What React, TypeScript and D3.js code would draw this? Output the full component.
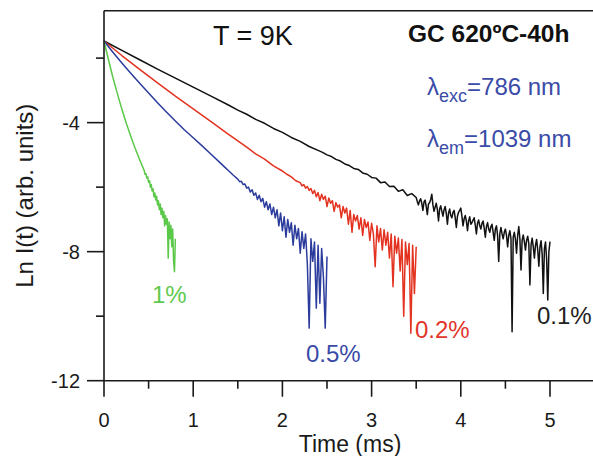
import React from "react";
import * as d3 from "d3";

const W = 593;
const H = 456;
const FONT = "'Liberation Sans', Arial, Helvetica, sans-serif";

const xTicks = [0, 1, 2, 3, 4, 5];
const xMinor = [0.5, 1.5, 2.5, 3.5, 4.5];
const yTicks = [-12, -8, -4];
const yMinor = [-10, -6, -2];

type P = [number, number];

const black01: P[] = [
  [0, -1.47], [0.2, -1.76], [0.4, -2.05], [0.6, -2.34], [0.8, -2.62], [1.0, -2.9],
  [1.2, -3.18], [1.4, -3.46], [1.5, -3.61], [1.6, -3.74], [1.7, -3.9], [1.8, -4.02],
  [1.9, -4.18], [2.0, -4.3], [2.1, -4.46], [2.2, -4.58], [2.3, -4.74], [2.4, -4.86],
  [2.45, -4.92], [2.5, -5.0], [2.55, -5.05], [2.6, -5.14], [2.65, -5.19], [2.7, -5.28],
  [2.75, -5.33], [2.8, -5.42], [2.85, -5.45], [2.9, -5.56], [2.95, -5.6], [3.0, -5.7],
  [3.05, -5.72], [3.1, -5.86], [3.15, -5.84], [3.2, -5.98], [3.25, -5.97], [3.3, -6.13],
  [3.35, -6.08], [3.4, -6.26], [3.45, -6.2], [3.5, -6.32],
  [3.5125, -6.45], [3.525, -6.55], [3.5375, -6.42], [3.55, -6.36], [3.5625, -6.5], [3.575, -6.72],
  [3.5875, -6.46], [3.6, -6.4], [3.6125, -6.6], [3.625, -6.85], [3.6375, -6.52], [3.65, -6.48],
  [3.6625, -6.38], [3.675, -6.22], [3.6875, -6.55], [3.7, -6.75], [3.7125, -6.62], [3.725, -6.5],
  [3.7375, -6.7], [3.75, -7.05], [3.7625, -6.68], [3.775, -6.58], [3.7875, -6.75], [3.8, -6.9],
  [3.8125, -6.7], [3.825, -6.6], [3.8375, -6.82], [3.85, -7.15], [3.8625, -6.8], [3.875, -6.68],
  [3.8875, -6.88], [3.9, -6.95], [3.9125, -6.78], [3.925, -6.72], [3.9375, -6.95], [3.95, -7.25],
  [3.9625, -6.9], [3.975, -6.78], [3.9875, -6.72], [4.0, -6.65], [4.0125, -6.9], [4.025, -7.2],
  [4.0375, -6.98], [4.05, -6.88], [4.0625, -7.05], [4.075, -7.35], [4.0875, -7.05], [4.1, -6.92],
  [4.1125, -7.15], [4.125, -7.1], [4.1375, -7.02], [4.15, -6.95], [4.1625, -7.18], [4.175, -7.45],
  [4.1875, -7.12], [4.2, -7.02], [4.2125, -7.2], [4.225, -7.3], [4.2375, -7.12], [4.25, -7.05],
  [4.2625, -7.28], [4.275, -7.55], [4.2875, -7.22], [4.3, -7.1], [4.3125, -7.3], [4.325, -7.4],
  [4.3375, -7.22], [4.35, -7.15], [4.3625, -7.4], [4.375, -7.65], [4.3875, -7.3], [4.4, -7.2],
  [4.4125, -7.5], [4.425, -8.3], [4.4375, -7.45], [4.45, -7.25], [4.4625, -7.45], [4.475, -7.6],
  [4.4875, -7.4], [4.5, -7.3], [4.5125, -7.5], [4.525, -7.85], [4.5375, -7.5], [4.55, -7.35],
  [4.5625, -7.6], [4.575, -10.48], [4.5875, -7.55], [4.6, -7.4], [4.6125, -7.62], [4.625, -8.05],
  [4.6375, -7.5], [4.65, -7.22], [4.6625, -7.6], [4.675, -8.57], [4.6875, -7.65], [4.7, -7.48],
  [4.7125, -7.7], [4.725, -7.95], [4.7375, -7.65], [4.75, -7.52], [4.7625, -7.75], [4.775, -9.03],
  [4.7875, -7.8], [4.8, -7.58], [4.8125, -7.85], [4.825, -8.2], [4.8375, -7.8], [4.85, -7.62],
  [4.8625, -7.95], [4.875, -8.45], [4.8875, -7.85], [4.9, -7.66], [4.9125, -8.1], [4.925, -9.3],
  [4.9375, -7.9], [4.95, -7.7], [4.9625, -8.25], [4.975, -9.5], [4.9875, -8.0], [5.0, -7.69],
];

const red02: P[] = [
  [0, -1.47], [0.2, -1.92], [0.4, -2.35], [0.6, -2.77], [0.8, -3.18], [1.0, -3.57],
  [1.2, -3.97], [1.4, -4.37], [1.6, -4.76], [1.7, -4.97], [1.8, -5.13], [1.9, -5.34],
  [2.0, -5.5], [2.05, -5.6], [2.1, -5.68], [2.15, -5.8], [2.2, -5.86],
  [2.22, -5.96], [2.24, -5.92], [2.26, -6.03], [2.28, -5.98], [2.3, -6.1], [2.32, -6.04],
  [2.34, -6.2], [2.36, -6.1], [2.38, -6.3], [2.4, -6.17], [2.42, -6.42], [2.44, -6.22],
  [2.46, -6.38], [2.48, -6.28], [2.5, -6.6], [2.52, -6.34], [2.54, -6.5], [2.56, -6.42],
  [2.58, -6.75], [2.6, -6.48], [2.62, -6.62], [2.64, -6.55], [2.66, -6.95], [2.68, -6.6],
  [2.7, -6.8], [2.72, -6.65], [2.74, -7.15], [2.76, -6.72], [2.78, -7.4], [2.8, -6.85],
  [2.82, -7.05], [2.84, -6.88], [2.86, -7.3], [2.88, -6.95], [2.9, -7.5], [2.92, -7.0],
  [2.94, -7.25], [2.96, -7.08], [2.98, -7.65], [3.0, -7.12], [3.02, -7.45], [3.04, -8.47],
  [3.06, -7.2], [3.08, -7.7], [3.1, -7.28], [3.12, -7.95], [3.14, -7.32], [3.16, -7.8],
  [3.18, -7.4], [3.2, -8.2], [3.22, -7.45], [3.24, -9.09], [3.26, -7.52], [3.28, -8.05],
  [3.3, -7.58], [3.32, -8.6], [3.34, -7.62], [3.36, -10.0], [3.38, -7.7], [3.4, -8.4],
  [3.42, -7.75], [3.44, -10.53], [3.46, -7.8], [3.48, -9.3], [3.5, -7.85],
];

const blue05: P[] = [
  [0, -1.47], [0.1, -1.82], [0.2, -2.15], [0.3, -2.47], [0.4, -2.78], [0.5, -3.08],
  [0.6, -3.38], [0.7, -3.67], [0.8, -3.95], [0.9, -4.22], [1.0, -4.47], [1.1, -4.72],
  [1.2, -4.98], [1.3, -5.24], [1.35, -5.37], [1.4, -5.5], [1.45, -5.63],
  [1.5, -5.75], [1.52, -5.83], [1.54, -5.82], [1.56, -5.92], [1.58, -5.9], [1.6, -6.03],
  [1.62, -6.0], [1.64, -6.15], [1.66, -6.08], [1.68, -6.25], [1.7, -6.18], [1.72, -6.38],
  [1.74, -6.25], [1.76, -6.45], [1.78, -6.35], [1.8, -6.62], [1.82, -6.45], [1.84, -6.7],
  [1.86, -6.52], [1.88, -6.85], [1.9, -6.62], [1.92, -6.95], [1.94, -6.7], [1.96, -7.2],
  [1.98, -6.8], [2.0, -7.35], [2.02, -6.92], [2.04, -7.55], [2.06, -7.0], [2.08, -7.4],
  [2.1, -7.1], [2.12, -7.8], [2.14, -7.18], [2.16, -7.6], [2.18, -7.28], [2.2, -8.05],
  [2.22, -7.38], [2.24, -7.9], [2.26, -7.45], [2.28, -8.4], [2.3, -10.37], [2.32, -7.6],
  [2.34, -8.3], [2.36, -7.7], [2.38, -9.75], [2.4, -7.8], [2.42, -9.6], [2.44, -7.9],
  [2.46, -8.8], [2.48, -10.37], [2.5, -8.15],
];

const green1: P[] = [
  [0, -1.47], [0.05, -2.05], [0.1, -2.6], [0.15, -3.1], [0.2, -3.58], [0.25, -4.02],
  [0.3, -4.42], [0.35, -4.8], [0.4, -5.15],
  [0.45, -5.48], [0.46, -5.6], [0.47, -5.58], [0.48, -5.72], [0.49, -5.68], [0.5, -5.85],
  [0.51, -5.8], [0.52, -6.0], [0.53, -5.92], [0.54, -6.12], [0.55, -6.05], [0.56, -6.3],
  [0.57, -6.18], [0.58, -6.4], [0.59, -6.28], [0.6, -6.55], [0.61, -6.42], [0.62, -6.7],
  [0.63, -6.52], [0.64, -6.85], [0.65, -6.65], [0.66, -6.95], [0.67, -6.75], [0.68, -7.2],
  [0.69, -6.88], [0.7, -7.15], [0.71, -6.98], [0.72, -8.2], [0.73, -7.08], [0.74, -7.6],
  [0.75, -7.18], [0.76, -7.85], [0.77, -7.3], [0.78, -8.3], [0.79, -8.62], [0.8, -7.6],
];

const seriesNames = ["0.1%", "0.2%", "0.5%", "1%"];
const seriesColors = ["#111111", "#e3321f", "#2c3c9c", "#5cc84a"];
const labelColors = ["#222222", "#e2352a", "#3a4ba8", "#62c94f"];
const seriesData = [black01, red02, blue05, green1];

export default function App() {
  const x = d3.scaleLinear().domain([0, 5.5]).range([104, 594.6]);
  const y = d3.scaleLinear().domain([-12, -0.53]).range([380.7, 10.7]);
  const line = d3
    .line<P>()
    .x((d) => x(d[0]))
    .y((d) => y(d[1]));

  const labelPos: [number, number][] = [
    [537, 324],
    [415, 338],
    [306, 362],
    [152, 303],
  ];

  const axisColor = "#1a1a1a";
  const x0 = x(0);
  const yBottom = y(-12);
  const yTop = y(-0.53);

  return (
    <svg
      width={W}
      height={H}
      style={{ position: "absolute", left: 0, top: 0, background: "#fff" }}
      fontFamily={FONT}
    >
      <rect x={0} y={0} width={W} height={H} fill="#fff" />
      {seriesData.map((d, i) => (
        <path
          key={seriesNames[i]}
          d={line(d) || ""}
          fill="none"
          stroke={seriesColors[i]}
          strokeWidth={1.5}
          strokeLinejoin="round"
        />
      ))}
      <line x1={x0} x2={W} y1={yBottom} y2={yBottom} stroke={axisColor} strokeWidth={1.6} />
      <line x1={x0} x2={W} y1={yTop} y2={yTop} stroke={axisColor} strokeWidth={1.6} />
      <line x1={x0} x2={x0} y1={yTop} y2={yBottom} stroke={axisColor} strokeWidth={1.6} />
      {xTicks.map((t) => (
        <g key={"xt" + t}>
          <line x1={x(t)} x2={x(t)} y1={yBottom} y2={yBottom + 16} stroke={axisColor} strokeWidth={1.6} />
          <text x={x(t)} y={427} fontSize={20} textAnchor="middle" fill="#1a1a1a">
            {t}
          </text>
        </g>
      ))}
      {xMinor.map((t) => (
        <line key={"xm" + t} x1={x(t)} x2={x(t)} y1={yBottom} y2={yBottom + 8} stroke={axisColor} strokeWidth={1.6} />
      ))}
      {yTicks.map((t) => (
        <g key={"yt" + t}>
          <line x1={x0 - 17} x2={x0} y1={y(t)} y2={y(t)} stroke={axisColor} strokeWidth={1.6} />
          <text x={80} y={y(t) + 7.5} fontSize={20} textAnchor="end" fill="#1a1a1a">
            {t}
          </text>
        </g>
      ))}
      {yMinor.map((t) => (
        <line key={"ym" + t} x1={x0 - 8} x2={x0} y1={y(t)} y2={y(t)} stroke={axisColor} strokeWidth={1.6} />
      ))}
      <text x={350} y={452} fontSize={23} textAnchor="middle" fill="#1a1a1a">
        Time (ms)
      </text>
      <text
        transform={`translate(33, ${(yTop + yBottom) / 2}) rotate(-90)`}
        fontSize={24}
        textAnchor="middle"
        fill="#1a1a1a"
      >
        Ln I(t) (arb. units)
      </text>
      <text x={213} y={45} fontSize={27} fill="#111">
        T = 9K
      </text>
      <text x={408} y={42} fontSize={24.5} fontWeight="bold" fill="#111">
        GC 620ºC-40h
      </text>
      <text x={427} y={95} fontSize={24} fill="#3a4ba8">
        λ
        <tspan fontSize={18} dy={7}>
          exc
        </tspan>
        <tspan fontSize={24} dy={-7}>
          =786 nm
        </tspan>
      </text>
      <text x={427} y={147} fontSize={24} fill="#3a4ba8">
        λ
        <tspan fontSize={18} dy={7}>
          em
        </tspan>
        <tspan fontSize={24} dy={-7}>
          =1039 nm
        </tspan>
      </text>
      {seriesNames.map((n, i) => (
        <text key={"lbl" + n} x={labelPos[i][0]} y={labelPos[i][1]} fontSize={24} fill={labelColors[i]}>
          {n}
        </text>
      ))}
    </svg>
  );
}
